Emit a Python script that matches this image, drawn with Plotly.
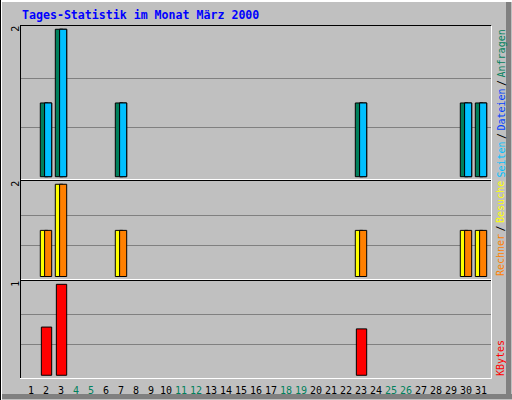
import plotly.graph_objects as go

# Tagesstatistik, Maerz 2000
days = list(range(1, 32))
weekend = [4, 5, 11, 12, 18, 19, 25, 26]

hits = [0, 1, 2, 0, 0, 0, 1, 0, 0, 0,
        0, 0, 0, 0, 0, 0, 0, 0, 0, 0,
        0, 0, 1, 0, 0, 0, 0, 0, 0, 1,
        1]
files = [0, 1, 2, 0, 0, 0, 1, 0, 0, 0,
         0, 0, 0, 0, 0, 0, 0, 0, 0, 0,
         0, 0, 1, 0, 0, 0, 0, 0, 0, 1,
         1]
pages = [0, 1, 2, 0, 0, 0, 1, 0, 0, 0,
         0, 0, 0, 0, 0, 0, 0, 0, 0, 0,
         0, 0, 1, 0, 0, 0, 0, 0, 0, 1,
         1]
visits = [0, 1, 2, 0, 0, 0, 1, 0, 0, 0,
          0, 0, 0, 0, 0, 0, 0, 0, 0, 0,
          0, 0, 1, 0, 0, 0, 0, 0, 0, 1,
          1]
sites = [0, 1, 2, 0, 0, 0, 1, 0, 0, 0,
         0, 0, 0, 0, 0, 0, 0, 0, 0, 0,
         0, 0, 1, 0, 0, 0, 0, 0, 0, 1,
         1]
kbytes = [0, 0.53, 1.0, 0, 0, 0, 0, 0, 0, 0,
          0, 0, 0, 0, 0, 0, 0, 0, 0, 0,
          0, 0, 0.51, 0, 0, 0, 0, 0, 0, 0,
          0]

max_top = 2
max_mid = 2
max_kb = 1

GREEN = "#00805C"
BLUE = "#0040FF"
CYAN = "#00C0FF"
YELLOW = "#FFFF00"
ORANGE = "#FF8000"
RED = "#FF0000"
BG = "#C0C0C0"
MONO = "DejaVu Sans Mono"

W, H = 512, 400


def px(x):
    return x / W


def py(y):
    return 1 - y / H


def nz(vals):
    return [v if v else None for v in vals]


def bar(vals, color, offset, width, xa, ya):
    return go.Bar(x=days, y=nz(vals), offset=offset, width=width,
                  marker=dict(color=color, line=dict(color="black", width=1)),
                  xaxis=xa, yaxis=ya, showlegend=False, hoverinfo="skip")


fig = go.Figure()
fig.add_trace(bar(hits, GREEN, -0.38, 0.5, "x", "y"))
fig.add_trace(bar(files, BLUE, -0.093, 0.473, "x", "y"))
fig.add_trace(bar(pages, CYAN, -0.093, 0.473, "x", "y"))
fig.add_trace(bar(visits, YELLOW, -0.38, 0.5, "x2", "y2"))
fig.add_trace(bar(sites, ORANGE, -0.093, 0.473, "x2", "y2"))
fig.add_trace(bar(kbytes, RED, -0.31, 0.69, "x3", "y3"))

xrange = [0.2667, 31.667]
xdom = [px(20), px(491)]
ticktext = [f"<span style='color:{GREEN}'>{d}</span>" if d in weekend else str(d)
            for d in days]

xbase = dict(domain=xdom, range=xrange, showgrid=False, zeroline=False,
             showline=False, ticks="", fixedrange=True)
ybase = dict(showgrid=True, gridcolor="#808080", gridwidth=1, zeroline=False,
             showline=False, ticks="", showticklabels=False, fixedrange=True)

fig.update_layout(
    width=W, height=H,
    margin=dict(l=0, r=0, t=0, b=0),
    paper_bgcolor=BG, plot_bgcolor=BG,
    barmode="overlay",
    font=dict(family=MONO, size=10, color="black"),
    xaxis=dict(xbase, anchor="y", showticklabels=False),
    xaxis2=dict(xbase, anchor="y2", matches="x", showticklabels=False),
    xaxis3=dict(xbase, anchor="y3", matches="x", tickvals=days, ticktext=ticktext,
                ticklabelstandoff=5,
                tickfont=dict(family=MONO, size=10, color="black")),
    yaxis=dict(ybase, domain=[py(180), py(25)], range=[-0.045, 2.058],
               tickvals=[max_top / 3, 2 * max_top / 3]),
    yaxis2=dict(ybase, domain=[py(279.5), py(180.5)], range=[-0.065, 2.082],
                tickvals=[max_mid / 3, 2 * max_mid / 3]),
    yaxis3=dict(ybase, domain=[py(378), py(280.5)], range=[-0.03, 1.042],
                tickvals=[max_kb / 3, 2 * max_kb / 3]),
)

# 3D-Rahmen der Panels
shapes = []


def line(x0, y0, x1, y1, color, w=1):
    shapes.append(dict(type="line", xref="paper", yref="paper",
                       x0=px(x0), y0=py(y0), x1=px(x1), y1=py(y1),
                       line=dict(color=color, width=w)))


def rect(x0, y0, x1, y1, color):
    shapes.append(dict(type="rect", xref="paper", yref="paper",
                       x0=px(x0), y0=py(y0), x1=px(x1), y1=py(y1),
                       fillcolor=color, line=dict(width=0)))


# Bildrahmen
rect(0, 0, 512, 2, "white")
rect(0, 0, 2, 400, "white")
rect(2, 394, 512, 399, "#808080")
rect(506, 2, 511, 399, "#808080")
line(0.5, 0, 0.5, 400, "black")

# Panels
line(20.5, 25.5, 20.5, 378, "black")
line(20, 25.5, 491.5, 25.5, "black")
line(21, 179.5, 491.5, 179.5, "white")
line(21, 180.5, 491, 180.5, "black")
line(21, 279.5, 491.5, 279.5, "white")
line(21, 280.5, 491, 280.5, "black")
line(20, 378.5, 491.5, 378.5, "white")
line(491.5, 25.5, 491.5, 378.5, "white")
fig.update_layout(shapes=shapes)

ann = []
ann.append(dict(text="<b>Tages-Statistik im Monat März 2000</b>", xref="paper", yref="paper",
                x=px(19.5), y=py(14.5), xanchor="left", yanchor="middle", showarrow=False,
                font=dict(family=MONO, size=11.6, color="#0000FF")))
for yref, val in [("y", max_top), ("y2", max_mid), ("y3", max_kb)]:
    ann.append(dict(text=str(val), xref="paper", yref=yref, x=px(15.5), y=val,
                    textangle=-90, xanchor="center", yanchor="middle", showarrow=False,
                    font=dict(family=MONO, size=10, color="black")))

sp = "<span style='font-size:4px'> </span>"
sep = f"{sp}/{sp}"


def col(t, c):
    return f"<span style='color:{c}'>{t}</span>"


side = [
    (col("Seiten", CYAN) + sep + col("Dateien", BLUE) + sep + col("Anfragen", GREEN), 104),
    (col("Rechner", ORANGE) + sep + col("Besuche", YELLOW), 228.5),
    (col("KBytes", RED), 358.5),
]
for txt, yc in side:
    ann.append(dict(text=txt, xref="paper", yref="paper", x=px(500.5), y=py(yc),
                    textangle=-90, xanchor="center", yanchor="middle", showarrow=False,
                    font=dict(family=MONO, size=10, color="black")))
fig.update_layout(annotations=ann)

fig.write_html("out.html", config={"displayModeBar": False},
               post_script="document.body.style.margin='0';")
